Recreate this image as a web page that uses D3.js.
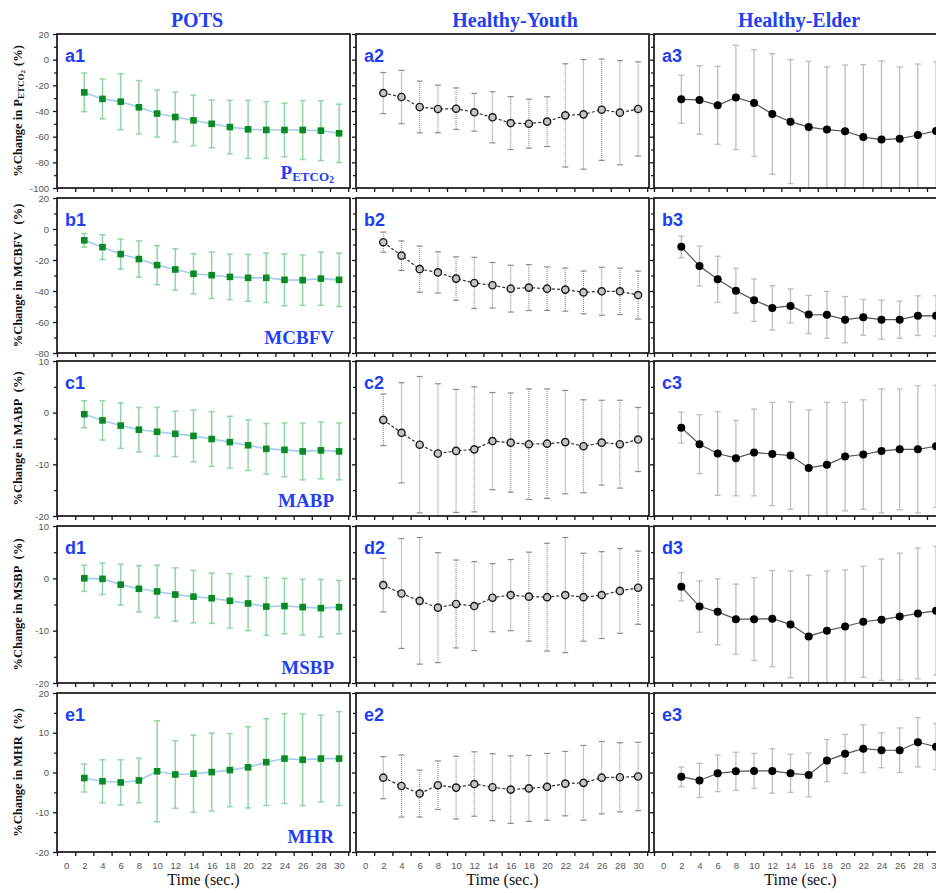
<!DOCTYPE html>
<html>
<head>
<meta charset="utf-8">
<script src="https://cdn.jsdelivr.net/npm/d3@7"></script>
<style>
	body { margin: 0; background: #fff; }
	svg { display: block; }
</style>
</head>
<body>
<div id="chart"></div>
<script>
'use strict';

// Data (means and SD per group: [POTS, Healthy-Youth, Healthy-Elder])
var times = [2, 4, 6, 8, 10, 12, 14, 16, 18, 20, 22, 24, 26, 28, 30];
var groups = ['POTS', 'Healthy-Youth', 'Healthy-Elder'];
var measures = ['PETCO2', 'MCBFV', 'MABP', 'MSBP', 'MHR'];
var panelIds = ['a', 'b', 'c', 'd', 'e'];

var petco2Mean = [
	[-25.5, -30.6, -32.7, -37.1, -42, -44.7, -47.3, -50, -52.5, -54.3, -54.8, -54.8, -54.8, -55.3, -57.4],
	[-26, -29.1, -36.9, -38.4, -38.2, -41, -44.9, -49.4, -49.9, -48.3, -43.4, -42.6, -39, -41.3, -38.4],
	[-30.9, -31.4, -35.6, -29.4, -33.8, -42.3, -48.3, -52.5, -54.5, -55.8, -60.3, -62.3, -61.6, -58.7, -55.5]
];
var petco2Sd = [
	[15, 15.5, 21.8, 20.8, 18.3, 19.4, 19.7, 18.6, 20.8, 22.6, 22, 20.9, 23, 23.3, 22.7],
	[16, 20.8, 20.2, 18.5, 16.2, 14.7, 19.9, 20.6, 19.1, 19.4, 40.2, 42.7, 39.5, 40.6, 36.7],
	[18.7, 26.7, 30.4, 40.6, 41.6, 47, 48.3, 51.2, 48.8, 51.6, 56.4, 61.3, 55.9, 55.3, 54]
];
var mcbfvMean = [
	[-7.3, -11.7, -16.2, -19.4, -23.3, -26.1, -28.9, -29.8, -30.9, -31.5, -31.5, -32.8, -33, -32, -32.8],
	[-8.5, -17.2, -25.9, -28, -32, -34.8, -36.3, -38.5, -37.8, -38.5, -39.1, -40.9, -40.2, -40.2, -42.6],
	[-11.5, -23.9, -32.4, -39.8, -45.9, -50.9, -49.6, -55.2, -55.4, -58.5, -57, -58.5, -58.5, -55.9, -56]
];
var mcbfvSd = [
	[4.4, 8, 9.7, 11.7, 12.6, 13.4, 12.9, 15, 14.6, 15.1, 15.9, 16.7, 16.3, 17.2, 17.2],
	[6.5, 9.5, 14.9, 13.3, 14, 16.5, 14.7, 15.1, 14.8, 14, 13.9, 13.8, 15.5, 15, 15.5],
	[7, 12.9, 14.8, 14.5, 13.7, 14.3, 10.9, 12.3, 15.1, 14.9, 11.5, 12.6, 12, 12.8, 13]
];
var mabpMean = [
	[-0.3, -1.5, -2.5, -3.3, -3.7, -4.1, -4.5, -5.1, -5.7, -6.3, -7, -7.2, -7.5, -7.3, -7.5],
	[-1.4, -3.9, -6.2, -7.9, -7.4, -7.1, -5.5, -5.8, -6.1, -6, -5.7, -6.5, -5.8, -6.1, -5.2],
	[-2.9, -6.1, -7.9, -8.8, -7.7, -8, -8.3, -10.7, -10.1, -8.5, -8.1, -7.4, -7.1, -7.1, -6.5]
];
var mabpSd = [
	[2.6, 3.8, 4.4, 4.3, 4.7, 4.4, 5, 5.3, 5, 4.9, 4.9, 5.2, 5.5, 5.5, 5.5],
	[5, 9.7, 13.2, 13.5, 11.9, 12.1, 9.4, 9.6, 10.7, 10.6, 10, 9, 8.2, 8.5, 6.2],
	[3, 5.7, 8.1, 7.3, 8.4, 10, 10.4, 11.2, 12.1, 10.5, 10.6, 12, 11.7, 12.3, 11.8]
];
var msbpMean = [
	[0, -0.1, -1.2, -2, -2.5, -3.1, -3.5, -3.8, -4.3, -4.8, -5.4, -5.3, -5.5, -5.7, -5.5],
	[-1.3, -2.9, -4.3, -5.6, -4.9, -5.3, -3.7, -3.2, -3.5, -3.6, -3.2, -3.6, -3.2, -2.4, -1.8],
	[-1.6, -5.4, -6.4, -7.8, -7.8, -7.7, -8.8, -11.1, -10, -9.2, -8.3, -7.9, -7.3, -6.7, -6.2]
];
var msbpSd = [
	[2.5, 3, 3.9, 4.4, 5, 5.1, 5, 4.8, 5.2, 5.2, 5.5, 5.3, 5.3, 5.5, 5.1],
	[5.1, 10.5, 12.1, 10.5, 8.4, 8.5, 6.5, 6.8, 8.5, 10.3, 11, 8.4, 8.3, 8.1, 7],
	[2.7, 4.9, 6.3, 6.7, 7.9, 9.2, 10.2, 11.7, 11.4, 10.8, 10.6, 11.6, 12.1, 12.5, 12.3]
];
var mhrMean = [
	[-1.4, -2.2, -2.5, -2, 0.3, -0.5, -0.3, 0.1, 0.6, 1.3, 2.6, 3.5, 3.2, 3.5, 3.5],
	[-1.3, -3.4, -5.3, -3.2, -3.8, -2.9, -3.7, -4.3, -4, -3.6, -2.8, -2.6, -1.3, -1.2, -1],
	[-1.1, -2, -0.2, 0.3, 0.4, 0.4, -0.2, -0.6, 3, 4.7, 6, 5.6, 5.6, 7.6, 6.5]
];
var mhrSd = [
	[3.5, 5.4, 5.7, 5.6, 12.7, 8.5, 9.7, 9.8, 9.2, 10.2, 10.9, 11.3, 11.5, 10.9, 11.8],
	[5.3, 7.8, 5.9, 6.1, 7.9, 8.1, 8.4, 8.5, 8.3, 8.4, 8.1, 9.4, 9.1, 8.7, 8.6],
	[2.5, 4.3, 4.6, 4.8, 4.4, 5.6, 4.8, 5.5, 5.3, 4.9, 6, 4.4, 5.6, 6.2, 5.8]
];

var petco2Ticks = [-100, -80, -60, -40, -20, 0, 20];
var mcbfvTicks = [-80, -60, -40, -20, 0, 20];
var mabpTicks = [-20, -10, 0, 10];
var msbpTicks = [-20, -10, 0, 10];
var mhrTicks = [-20, -10, 0, 10, 20];
var timeTickLabels = [0, 2, 4, 6, 8, 10, 12, 14, 16, 18, 20, 22, 24, 26, 28, 30];
var timeTickMarks = [-1, 1, 3, 5, 7, 9, 11, 13, 15, 17, 19, 21, 23, 25, 27, 29, 31];

var rowMeans = [petco2Mean, mcbfvMean, mabpMean, msbpMean, mhrMean];
var rowSds = [petco2Sd, mcbfvSd, mabpSd, msbpSd, mhrSd];
var rowTicks = [petco2Ticks, mcbfvTicks, mabpTicks, msbpTicks, mhrTicks];

// Layout
var W = 936, H = 893;
var rowTop = [34, 198, 361, 526, 693];
var rowH = [154, 155, 155, 157, 159];
var colLeft = [57, 356, 654];
var colW = [293, 293, 293];
var titleX = [197, 515, 799];
var blue = '#1f3ff2';
var serif = '"Liberation Serif", "Times New Roman", serif';
var sans = '"Liberation Sans", Arial, sans-serif';

var styles = [
	{line: '#a2cdef', lineW: 1.6, dash: null, err: '#8fd6a2', errW: 1.5, errDash: null},
	{line: '#333', lineW: 1.2, dash: '3,2', err: '#8c8c8c', errW: 1.2, errDash: '1,1'},
	{line: '#555', lineW: 1.2, dash: null, err: '#bdbdbd', errW: 1.3, errDash: null}
];

var fmtTick = function(d) { return d < 0 ? '-' + Math.abs(d) : String(d); };

var svg = d3.select('#chart').append('svg')
	.attr('width', W)
	.attr('height', H);

// Column titles
svg.selectAll('.col-title')
	.data(groups)
	.enter().append('text')
		.attr('class', 'col-title')
		.attr('x', function(d, i) { return titleX[i]; })
		.attr('y', 27)
		.attr('text-anchor', 'middle')
		.style('font-family', serif)
		.style('font-weight', 'bold')
		.style('font-size', '20px')
		.style('fill', blue)
		.text(function(d) { return d; });

var defs = svg.append('defs');

rowMeans.forEach(function(means, r) {
	var top = rowTop[r], h = rowH[r];
	var ticks = rowTicks[r];
	var y = d3.scaleLinear()
		.domain([ticks[0], ticks[ticks.length - 1]])
		.range([top + h, top]);
	var step = ticks[1] - ticks[0];
	var minor = ticks.slice(0, -1).map(function(t) { return t + step / 2; });

	groups.forEach(function(grp, c) {
		var left = colLeft[c], w = colW[c];
		var x = d3.scaleLinear().domain([-1, 31.2]).range([left, left + w]);
		var st = styles[c];
		var sd = rowSds[r][c];
		var pts = times.map(function(t, i) {
			return {t: t, m: means[c][i], sd: sd[i]};
		});

		var clipId = 'clip-' + r + '-' + c;
		defs.append('clipPath').attr('id', clipId)
			.append('rect')
				.attr('x', left).attr('y', top)
				.attr('width', w).attr('height', h);

		var g = svg.append('g').attr('clip-path', 'url(#' + clipId + ')');

		// Error bars
		var eb = g.append('g')
			.attr('stroke', st.err)
			.attr('stroke-width', st.errW);
		eb.selectAll('.bar')
			.data(pts)
			.enter().append('line')
				.attr('stroke-dasharray', st.errDash)
				.attr('x1', function(d) { return x(d.t); })
				.attr('x2', function(d) { return x(d.t); })
				.attr('y1', function(d) { return y(d.m + d.sd); })
				.attr('y2', function(d) { return y(d.m - d.sd); });
		[1, -1].forEach(function(sign) {
			eb.selectAll('.cap' + sign)
				.data(pts)
				.enter().append('line')
					.attr('x1', function(d) { return x(d.t) - 3; })
					.attr('x2', function(d) { return x(d.t) + 3; })
					.attr('y1', function(d) { return y(d.m + sign * d.sd); })
					.attr('y2', function(d) { return y(d.m + sign * d.sd); });
		});

		// Mean line
		g.append('path')
			.datum(pts)
			.attr('fill', 'none')
			.attr('stroke', st.line)
			.attr('stroke-width', st.lineW)
			.attr('stroke-dasharray', st.dash)
			.attr('d', d3.line()
				.x(function(d) { return x(d.t); })
				.y(function(d) { return y(d.m); }));

		// Markers
		if (c === 0) {
			g.selectAll('.mk')
				.data(pts)
				.enter().append('rect')
					.attr('x', function(d) { return x(d.t) - 3.3; })
					.attr('y', function(d) { return y(d.m) - 3.3; })
					.attr('width', 6.6)
					.attr('height', 6.6)
					.attr('fill', '#0a8a22');
		} else if (c === 1) {
			g.selectAll('.mk')
				.data(pts)
				.enter().append('circle')
					.attr('cx', function(d) { return x(d.t); })
					.attr('cy', function(d) { return y(d.m); })
					.attr('r', 3.6)
					.attr('fill', '#c4c4c4')
					.attr('stroke', '#1a1a1a')
					.attr('stroke-width', 1.4);
		} else {
			g.selectAll('.mk')
				.data(pts)
				.enter().append('circle')
					.attr('cx', function(d) { return x(d.t); })
					.attr('cy', function(d) { return y(d.m); })
					.attr('r', 4)
					.attr('fill', '#000');
		}

		// Frame
		svg.append('rect')
			.attr('x', left).attr('y', top)
			.attr('width', w).attr('height', h)
			.attr('fill', 'none')
			.attr('stroke', '#151515')
			.attr('stroke-width', 1.7);

		// X tick marks
		var xa = svg.append('g')
			.attr('transform', 'translate(0,' + (top + h) + ')')
			.call(d3.axisBottom(x).tickValues(timeTickMarks).tickSize(4).tickFormat(''));
		xa.select('.domain').remove();
		xa.selectAll('line').attr('stroke', '#151515').attr('stroke-width', 1.3);

		if (r === rowMeans.length - 1) {
			var xl = svg.append('g')
				.attr('transform', 'translate(0,' + (top + h) + ')')
				.call(d3.axisBottom(x).tickValues(timeTickLabels).tickSize(0).tickPadding(10));
			xl.select('.domain').remove();
			xl.selectAll('text')
				.style('font-family', sans)
				.style('font-size', '9.5px')
				.style('fill', '#555');

			svg.append('text')
				.attr('x', left + w / 2)
				.attr('y', 885)
				.attr('text-anchor', 'middle')
				.style('font-family', serif)
				.style('font-size', '16px')
				.style('fill', '#111')
				.text('Time (sec.)');
		}

		// Y ticks (labels only in the POTS column)
		var ya = svg.append('g')
			.attr('transform', 'translate(' + left + ',0)')
			.call(d3.axisLeft(y).tickValues(ticks).tickSize(4).tickPadding(4)
				.tickFormat(c === 0 ? fmtTick : function() { return ''; }));
		ya.select('.domain').remove();
		ya.selectAll('line').attr('stroke', '#151515').attr('stroke-width', 1.3);
		ya.selectAll('text')
			.style('font-family', sans)
			.style('font-size', '9.5px')
			.style('fill', '#555');

		var ym = svg.append('g')
			.attr('transform', 'translate(' + left + ',0)')
			.call(d3.axisLeft(y).tickValues(minor).tickSize(3).tickFormat(function() { return ''; }));
		ym.select('.domain').remove();
		ym.selectAll('line').attr('stroke', '#151515').attr('stroke-width', 1.2);

		// Panel label
		svg.append('text')
			.attr('x', left + 8)
			.attr('y', top + 28)
			.style('font-family', sans)
			.style('font-weight', 'bold')
			.style('font-size', '18px')
			.style('fill', blue)
			.text(panelIds[r] + (c + 1));
	});

	// Measure label in POTS column
	var lab = svg.append('text')
		.attr('x', colLeft[0] + colW[0] - 16)
		.attr('y', top + h - 9)
		.attr('text-anchor', 'end')
		.style('font-family', serif)
		.style('font-weight', 'bold')
		.style('font-size', '19px')
		.style('fill', blue);
	if (r === 0) {
		lab.append('tspan').text('P');
		lab.append('tspan').style('font-size', '13px').attr('dy', 2).text('ETCO');
		lab.append('tspan').style('font-size', '10px').attr('dy', 2).text('2');
	} else {
		lab.text(measures[r]);
	}

	// Y axis title
	var yt = svg.append('text')
		.attr('transform', 'translate(22,' + (top + h / 2) + ') rotate(-90)')
		.attr('text-anchor', 'middle')
		.style('font-family', serif)
		.style('font-weight', 'bold')
		.style('font-size', '12.5px')
		.style('fill', '#111');
	if (r === 0) {
		yt.append('tspan').text('%Change in P');
		yt.append('tspan').style('font-size', '9px').attr('dy', 1.5).text('ETCO');
		yt.append('tspan').style('font-size', '7px').attr('dy', 1).text('2');
		yt.append('tspan').attr('dy', -2.5).attr('dx', 4).text('(%)');
	} else {
		yt.append('tspan').text('%Change in ' + measures[r]);
		yt.append('tspan').attr('dx', 4).text(' (%)');
	}
});
</script>
</body>
</html>
